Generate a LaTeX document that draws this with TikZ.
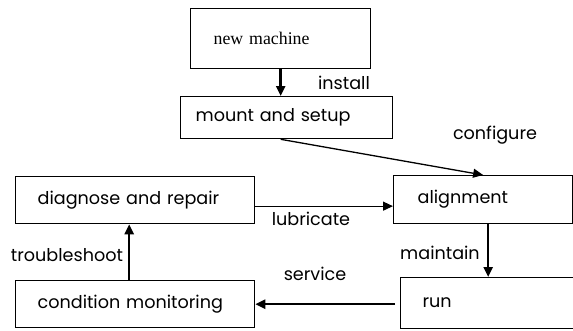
\documentclass[tikz,border=0pt]{standalone}
\usepackage{fontspec}
\setmainfont{Poppins}
\newfontfamily\serifface{Liberation Serif}
\usetikzlibrary{arrows.meta}

\begin{document}
\begin{tikzpicture}[x=1pt,y=-1pt,font=\fontsize{17.6}{20}\selectfont]
	\tikzstyle{stage}=[draw,line width=1.3pt,anchor=north west,align=left,inner ysep=0pt]
	\tikzstyle{flow}=[line width=1.3pt,-{Triangle[length=10pt,width=9pt]}]
	\tikzstyle{heavy}=[line width=2.4pt]
	\useasboundingbox (0,0) rectangle (573,330);
	\clip (0,0) rectangle (573,330);
		\node[stage, minimum width=180pt, minimum height=60pt, text width=134pt, inner xsep=23pt, font=\serifface\fontsize{17.8}{20}\selectfont] (new) at (190,8) {new machine};
		\node[stage, minimum width=212pt, minimum height=42pt, text width=182pt, inner xsep=15pt] (mount) at (180,96) {mount and setup};
		\node[stage, minimum width=179pt, minimum height=48pt, text width=131pt, inner xsep=24pt] (align) at (393,175) {alignment};
		\node[stage, minimum width=239pt, minimum height=47pt, text width=195pt, inner xsep=22pt] (diag) at (15,176) {diagnose and repair};
		\node[stage, minimum width=239pt, minimum height=47pt, text width=195pt, inner xsep=22pt] (cond) at (15,280) {condition monitoring};
		\node[stage, minimum width=200pt, minimum height=51pt, text width=156pt, inner xsep=22pt] (run) at (400,277) {run};
		\coordinate (srv) at ([xshift=-5pt]run.west |- cond.east);
			\draw[flow,heavy] (new.south) -- (new.south |- mount.north);
			\draw[flow] (new.south |- mount.south) -- (align.north);
			\draw[flow] ([yshift=-6pt]diag.east) -- ([yshift=-6pt]diag.east -| align.west);
			\draw[flow,heavy] ([xshift=-6pt]cond.north) -- ([xshift=-6pt]cond.north |- diag.south);
			\draw[flow,heavy] ([xshift=5pt]align.south) -- ([xshift=5pt]align.south |- run.north);
			\draw[flow,heavy] (srv) -- (cond.east);
		\node (install) at (344,83) {install};
		\node (configure) at (495,135) {configure};
		\node (lubricate) at (311,219) {lubricate};
		\node (troubleshoot) at (67,255) {troubleshoot};
		\node (maintain) at (440,253) {maintain};
		\node (service) at (315,274) {service};
\end{tikzpicture}
\end{document}
